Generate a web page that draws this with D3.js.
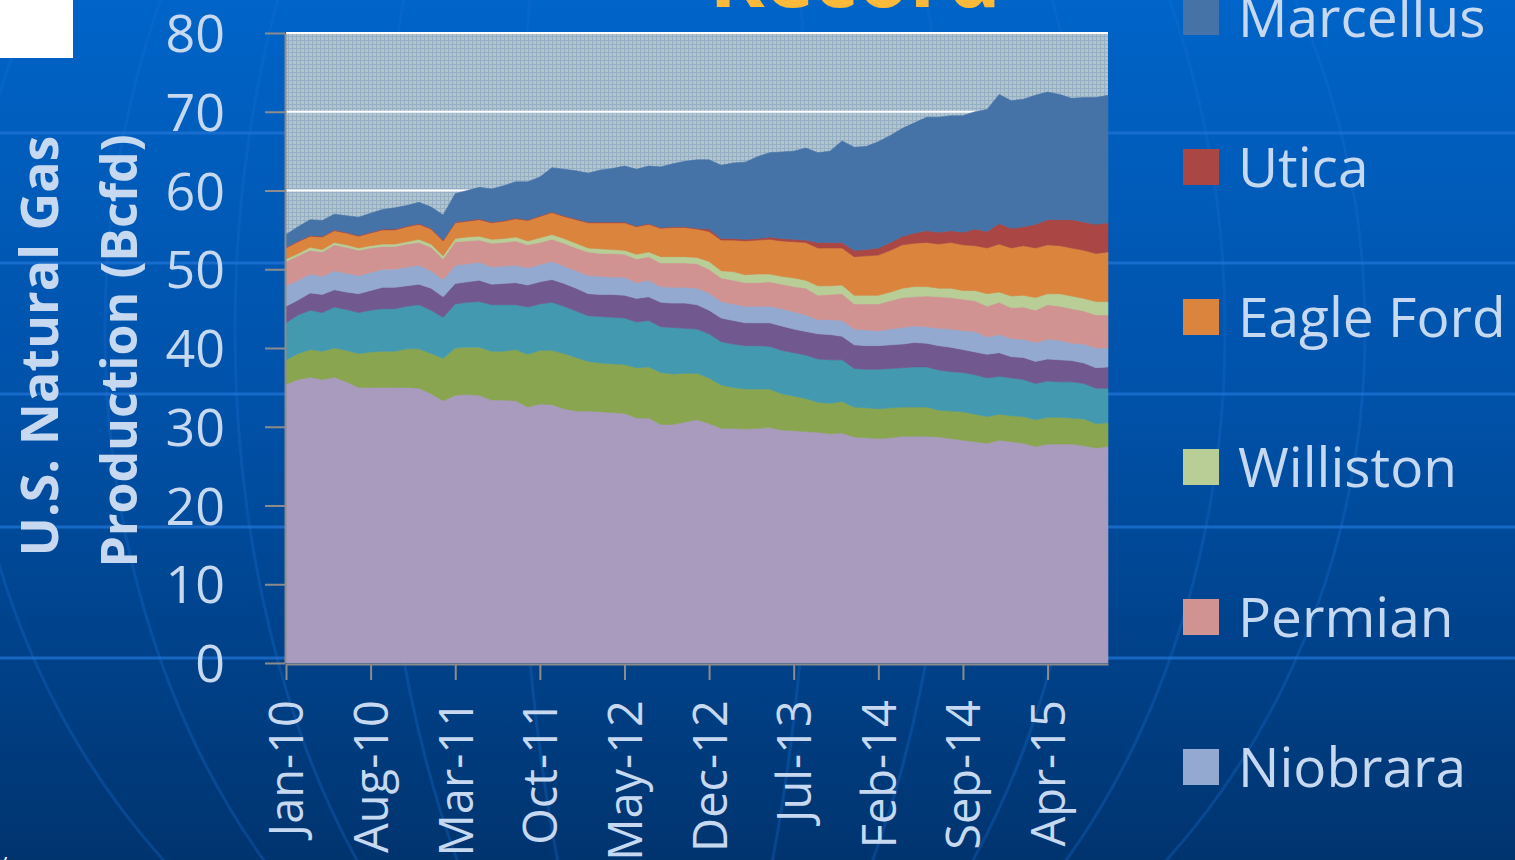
<!DOCTYPE html>
<html>
<head>
<meta charset="utf-8">
<style>
  body { margin:0; overflow:hidden; background:#00336e; }
  text { font-family:"Open Sans", Arial, sans-serif; }
</style>
</head>
<body>
<svg id="chart" width="1515" height="860"></svg>
<script src="https://d3js.org/d3.v7.min.js"></script>
<script>
// monthly production by play, Bcfd, Jan-10 .. Sep-15
var restOfUS = [35.4,36.0,36.3,36.0,36.3,35.7,35.0,35.0,35.0,35.0,
  35.0,34.9,34.2,33.3,34.0,34.1,34.0,33.4,33.4,33.3,
  32.5,32.9,32.8,32.3,32.0,32.0,31.9,31.8,31.7,31.1,
  31.1,30.3,30.3,30.6,30.9,30.4,29.8,29.8,29.7,29.8,
  29.9,29.6,29.5,29.4,29.3,29.1,29.2,28.7,28.6,28.5,
  28.6,28.8,28.8,28.8,28.7,28.5,28.3,28.1,27.9,28.3,
  28.1,27.9,27.5,27.8,27.8,27.8,27.6,27.3,27.5];
var haynesville = [3.1,3.3,3.5,3.6,3.7,4.0,4.3,4.5,4.6,4.6,
  4.9,5.0,5.1,5.4,6.0,6.0,6.1,6.2,6.2,6.5,
  6.7,6.8,6.9,7.0,6.8,6.3,6.2,6.2,6.2,6.4,
  6.5,6.6,6.4,6.2,5.9,5.8,5.5,5.2,5.1,5.0,
  4.9,4.6,4.4,4.2,3.8,3.9,4.0,3.8,3.8,3.8,
  3.8,3.7,3.7,3.7,3.4,3.5,3.6,3.5,3.4,3.3,
  3.3,3.4,3.4,3.4,3.4,3.3,3.4,3.1,3.0];
var barnett = [4.7,4.9,5.0,4.9,5.2,5.2,5.2,5.3,5.4,5.4,
  5.4,5.6,5.5,5.2,5.6,5.7,5.8,5.9,5.9,5.7,
  6.0,5.9,6.1,6.0,5.9,5.8,5.9,5.9,5.9,5.8,
  5.9,5.8,5.9,5.7,5.6,5.6,5.5,5.5,5.5,5.5,
  5.4,5.5,5.5,5.5,5.5,5.5,5.3,4.9,4.9,5.0,
  5.0,5.0,5.1,5.1,5.1,5.0,5.0,5.0,4.9,4.8,
  4.8,4.7,4.6,4.6,4.5,4.6,4.5,4.5,4.4];
var fayetteville = [2.1,1.9,2.2,2.3,2.2,2.2,2.4,2.5,2.7,2.7,
  2.6,2.6,2.8,2.6,2.6,2.6,2.7,2.6,2.7,2.8,
  2.8,2.8,2.9,2.9,2.9,2.8,2.8,2.9,2.9,3.0,
  3.0,3.1,3.1,3.2,3.1,3.0,3.0,3.0,2.9,2.9,
  3.0,3.1,3.0,3.0,3.2,3.2,3.0,3.0,3.0,3.0,
  3.0,3.0,3.1,3.0,3.1,3.1,2.9,2.9,3.0,3.0,
  2.7,2.8,2.8,2.8,2.8,2.7,2.6,2.6,2.7];
var niobrara = [2.6,2.5,2.4,2.3,2.4,2.4,2.3,2.3,2.3,2.3,
  2.4,2.4,2.2,2.2,2.3,2.3,2.3,2.2,2.2,2.2,
  2.2,2.2,2.3,2.2,2.2,2.3,2.3,2.2,2.3,2.0,
  2.1,2.0,2.0,2.0,2.1,2.2,2.1,2.1,2.1,2.1,
  2.1,2.2,2.2,2.1,1.8,1.9,2.0,2.0,2.0,1.9,
  2.0,2.1,2.1,2.1,2.2,2.3,2.4,2.6,2.2,2.3,
  2.3,2.3,2.4,2.5,2.5,2.2,2.4,2.5,2.4];
var permian = [3.1,3.1,3.0,3.1,3.3,3.3,3.2,3.1,2.9,2.9,
  2.9,2.9,3.0,2.6,3.0,2.9,2.8,3.0,3.0,3.1,
  2.9,2.8,2.8,2.9,2.9,3.0,2.9,3.0,2.9,3.0,
  3.0,3.0,3.1,3.1,3.1,3.0,3.0,3.0,3.0,3.0,
  3.1,3.1,3.2,3.4,3.1,3.2,3.4,3.2,3.3,3.4,
  3.6,3.8,3.7,3.9,4.0,4.0,4.0,3.9,3.9,4.1,
  3.9,4.1,4.1,4.4,4.3,4.4,4.2,4.2,4.2];
var williston = [0.3,0.3,0.4,0.3,0.3,0.3,0.3,0.3,0.3,0.3,
  0.3,0.4,0.4,0.4,0.4,0.5,0.5,0.5,0.5,0.5,
  0.5,0.6,0.6,0.6,0.6,0.5,0.6,0.5,0.5,0.6,
  0.6,0.8,0.8,0.8,0.8,1.0,0.9,1.1,1.0,1.1,
  1.0,1.0,1.1,1.0,1.2,1.1,1.1,1.1,1.1,1.1,
  1.1,1.2,1.3,1.2,1.1,1.2,1.1,1.3,1.6,1.3,
  1.5,1.5,1.6,1.4,1.6,1.6,1.6,1.7,1.7];
var eagleFord = [1.4,1.5,1.4,1.6,1.5,1.5,1.5,1.6,1.8,1.8,
  1.9,1.9,1.9,1.9,2.0,2.0,2.1,2.1,2.2,2.3,
  2.6,2.7,2.8,2.8,3.0,3.2,3.3,3.4,3.5,3.5,
  3.5,3.6,3.7,3.7,3.6,3.8,3.9,4.0,4.3,4.3,
  4.4,4.5,4.6,4.8,4.8,4.8,4.7,4.9,5.0,5.1,
  5.3,5.5,5.5,5.6,5.6,5.8,5.8,5.7,5.8,6.1,
  6.1,6.3,6.3,6.2,6.1,6.1,6.1,6.1,6.3];
var utica = [0.1,0.1,0.1,0.1,0.1,0.1,0.1,0.1,0.1,0.1,
  0.1,0.1,0.1,0.1,0.1,0.1,0.1,0.1,0.1,0.1,
  0.1,0.1,0.1,0.1,0.1,0.1,0.1,0.1,0.1,0.1,
  0.1,0.1,0.1,0.1,0.1,0.3,0.2,0.2,0.2,0.2,
  0.3,0.3,0.3,0.3,0.7,0.7,0.7,0.8,0.8,0.9,
  1.0,1.1,1.3,1.5,1.5,1.5,1.6,2.1,2.1,2.6,
  2.5,2.4,3.0,3.2,3.3,3.6,3.6,3.7,3.7];
var marcellus = [1.6,1.8,2.0,2.0,2.0,2.1,2.3,2.4,2.5,2.7,
  2.6,2.7,2.7,3.2,3.6,3.8,4.0,4.2,4.4,4.6,
  4.8,4.9,5.6,5.9,6.1,6.2,6.6,6.8,7.1,7.2,
  7.3,7.7,8.0,8.3,8.7,8.8,9.3,9.6,9.8,10.4,
  10.7,11.0,11.2,11.7,11.4,11.6,12.9,13.1,13.1,13.5,
  13.6,13.7,14.0,14.4,14.6,14.6,14.8,14.9,15.5,16.4,
  16.2,16.2,16.4,16.2,15.9,15.4,15.8,16.1,16.2];

// stack order, bottom to top
var seriesNames = ["Rest of US","Haynesville","Barnett","Fayetteville","Niobrara",
                   "Permian","Williston","Eagle Ford","Utica","Marcellus"];
var seriesValues = [restOfUS, haynesville, barnett, fayetteville, niobrara,
                    permian, williston, eagleFord, utica, marcellus];
var seriesColors = ["#a99bbd","#8aa550","#4399af","#71588f","#93a9cf",
                    "#d19392","#b9cd96","#db843d","#aa4643","#4572a7"];

var xTickLabels = ["Jan-10","Aug-10","Mar-11","Oct-11","May-12","Dec-12","Jul-13","Feb-14","Sep-14","Apr-15"];
var yTicks = [0,10,20,30,40,50,60,70,80];

var fmt = d3.timeFormat("%b-%y");
var months = d3.timeMonth.range(new Date(2010,0,1), new Date(2015,9,1)).map(fmt);

var W = 1515, H = 860;
var plot = {left:286, right:1108, top:33, bottom:663};
var txtColor = "#c6d9f1";

var svg = d3.select("#chart");
var defs = svg.append("defs");

// slide background
var grad = defs.append("linearGradient").attr("id","bg").attr("x1",0).attr("y1",0).attr("x2",0).attr("y2",1);
grad.append("stop").attr("offset","0%").attr("stop-color","#0064c8");
grad.append("stop").attr("offset","50%").attr("stop-color","#0050a6");
grad.append("stop").attr("offset","100%").attr("stop-color","#00346f");
svg.append("rect").attr("width",W).attr("height",H).attr("fill","url(#bg)");

// faint globe lines
var globe = svg.append("g").attr("fill","none").attr("stroke","#1a6fd0").attr("stroke-width",3).attr("opacity",0.3);
[150, 290, 430, 560, 700].forEach(function(rx) {
  globe.append("ellipse").attr("cx",665).attr("cy",330).attr("rx",rx).attr("ry",760);
});
[133, 263, 394, 527, 658].forEach(function(yy) {
  svg.append("line").attr("x1",0).attr("x2",W).attr("y1",yy).attr("y2",yy)
    .attr("stroke","#1f74d6").attr("stroke-width",3).attr("opacity",0.75);
});

svg.append("rect").attr("x",0).attr("y",0).attr("width",73).attr("height",58).attr("fill","#ffffff");

// title remnant at the top edge
svg.append("text").attr("x",855).attr("y",7).attr("text-anchor","middle")
  .attr("font-size",84).attr("font-weight","bold").attr("fill","#fdb93a").text("Record");

// plot area fill pattern
var pat = defs.append("pattern").attr("id","mesh").attr("width",4).attr("height",4).attr("patternUnits","userSpaceOnUse");
pat.append("rect").attr("width",4).attr("height",4).attr("fill","#b4c5ca");
pat.append("rect").attr("x",0).attr("y",0).attr("width",4).attr("height",1).attr("fill","#95afc6");
pat.append("rect").attr("x",0).attr("y",0).attr("width",1).attr("height",4).attr("fill","#95afc6");

var x = d3.scalePoint().domain(months).range([plot.left, plot.right]);
var y = d3.scaleLinear().domain([0,80]).range([plot.bottom, plot.top]);

svg.append("rect").attr("x",plot.left).attr("y",plot.top)
  .attr("width",plot.right-plot.left).attr("height",plot.bottom-plot.top).attr("fill","url(#mesh)");

// gridlines
svg.append("g").selectAll("line").data(yTicks.filter(function(d){ return d > 0; })).enter().append("line")
  .attr("x1",plot.left).attr("x2",plot.right)
  .attr("y1",function(d){ return y(d); }).attr("y2",function(d){ return y(d); })
  .attr("stroke","#ffffff").attr("stroke-width",2);

// stacked areas
var rows = months.map(function(m, i) {
  var r = {month:m};
  seriesNames.forEach(function(n, k){ r[n] = seriesValues[k][i]; });
  return r;
});
var stacked = d3.stack().keys(seriesNames)(rows);
var area = d3.area()
  .x(function(d){ return x(d.data.month); })
  .y0(function(d){ return y(d[0]); })
  .y1(function(d){ return y(d[1]); });

svg.append("g").selectAll("path").data(stacked).enter().append("path")
  .attr("d", area)
  .attr("fill", function(d, i){ return seriesColors[i]; })
  .attr("stroke", function(d, i){ return seriesColors[i]; })
  .attr("stroke-width", 0.6);

// axes
var yAxis = svg.append("g").attr("transform","translate(" + (plot.left-1) + ",0)")
  .call(d3.axisLeft(y).tickValues(yTicks).tickSize(20).tickSizeOuter(0).tickPadding(40));
var xAxis = svg.append("g").attr("transform","translate(0," + (plot.bottom+1) + ")")
  .call(d3.axisBottom(x).tickValues(xTickLabels).tickSize(16).tickSizeOuter(0));

[yAxis, xAxis].forEach(function(a) {
  a.select(".domain").attr("stroke","#8c8c8c").attr("stroke-width",2);
  a.selectAll(".tick line").attr("stroke","#8c8c8c").attr("stroke-width",2);
  a.selectAll("text").attr("fill",txtColor).attr("font-family","'Open Sans', Arial, sans-serif");
});
yAxis.selectAll("text").attr("font-size",52).attr("dy","0.36em");
xAxis.selectAll("text").attr("font-size",47)
  .attr("transform","rotate(-90)").attr("text-anchor","end")
  .attr("x",-36).attr("y",0).attr("dy","0.36em");

// y-axis title, two lines
svg.append("text").attr("transform","translate(58,346) rotate(-90)")
  .attr("text-anchor","middle").attr("font-size",52).attr("font-weight","bold")
  .attr("fill",txtColor).text("U.S. Natural Gas");
svg.append("text").attr("transform","translate(137,351) rotate(-90)")
  .attr("text-anchor","middle").attr("font-size",50).attr("font-weight","bold")
  .attr("fill",txtColor).text("Production (Bcfd)");

// legend, top series first
var legendItems = seriesNames.map(function(n, i){ return {name:n, color:seriesColors[i]}; }).reverse();
var leg = svg.append("g").selectAll("g").data(legendItems).enter().append("g")
  .attr("transform", function(d, i){ return "translate(1183," + (17 + i*150) + ")"; });
leg.append("rect").attr("x",0).attr("y",-18).attr("width",36).attr("height",36)
  .attr("fill", function(d){ return d.color; });
leg.append("text").attr("x",55).attr("y",0).attr("dy","0.36em")
  .attr("font-size",55).attr("fill",txtColor).text(function(d){ return d.name; });

// clipped source note at the bottom-left corner
svg.append("text").attr("x",-3).attr("y",868).attr("font-size",20).attr("fill","#ffffff").text("y");
</script>
</body>
</html>
